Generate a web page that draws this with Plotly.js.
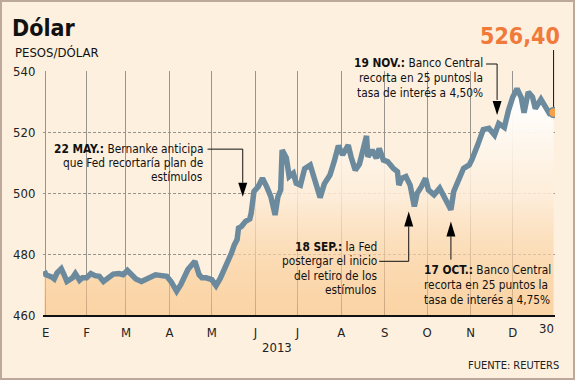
<!DOCTYPE html>
<html>
<head>
<meta charset="utf-8">
<script src="https://cdn.plot.ly/plotly-3.0.1.min.js"></script>
<style>
  html, body { margin: 0; padding: 0; background: #fdf0df; }
  #wrap { position: relative; width: 575px; height: 380px; }
  #chart { width: 575px; height: 380px; }
  #frame { position: absolute; left: 0; top: 0; width: 575px; height: 380px; box-sizing: border-box;
           border: 2px solid #bca99b; pointer-events: none; }
</style>
</head>
<body>
<div id="wrap"><div id="chart"></div><div id="frame"></div></div>
<script>
// ---- data ----
const dates = [
  '2013-01-02','2013-01-03','2013-01-07','2013-01-09','2013-01-11','2013-01-14','2013-01-16','2013-01-18',
  '2013-01-22','2013-01-24','2013-01-27','2013-01-29','2013-02-01','2013-02-04','2013-02-07','2013-02-10',
  '2013-02-13','2013-02-17','2013-02-20','2013-02-24','2013-02-27','2013-03-02','2013-03-05','2013-03-08',
  '2013-03-12','2013-03-15','2013-03-19','2013-03-22','2013-03-25','2013-03-30','2013-04-02','2013-04-06',
  '2013-04-09','2013-04-12','2013-04-14','2013-04-19','2013-04-22','2013-04-24','2013-04-27','2013-05-01',
  '2013-05-04','2013-05-07','2013-05-10','2013-05-12','2013-05-15','2013-05-17','2013-05-19','2013-05-20',
  '2013-05-22','2013-05-25','2013-05-28','2013-05-29','2013-05-31','2013-06-03','2013-06-06','2013-06-09',
  '2013-06-12','2013-06-15','2013-06-17','2013-06-19','2013-06-20','2013-06-23','2013-06-25','2013-06-28',
  '2013-06-30','2013-07-03','2013-07-06','2013-07-10','2013-07-13','2013-07-17','2013-07-20','2013-07-24',
  '2013-07-27','2013-07-30','2013-08-02','2013-08-06','2013-08-08','2013-08-11','2013-08-14','2013-08-18',
  '2013-08-19','2013-08-20','2013-08-23','2013-08-26','2013-08-28','2013-08-31','2013-09-03','2013-09-07',
  '2013-09-10','2013-09-11','2013-09-13','2013-09-16','2013-09-19','2013-09-22','2013-09-24','2013-09-27',
  '2013-09-30','2013-10-02','2013-10-06','2013-10-10','2013-10-13','2013-10-15','2013-10-18','2013-10-20',
  '2013-10-24','2013-10-27','2013-10-31','2013-11-02','2013-11-06','2013-11-10','2013-11-14','2013-11-18',
  '2013-11-21','2013-11-25','2013-11-28','2013-12-01','2013-12-04','2013-12-07','2013-12-09','2013-12-12',
  '2013-12-15','2013-12-17','2013-12-21','2013-12-24','2013-12-27','2013-12-30'
];
const pesosPerDollar = [
  474.4,473.2,472.5,471.8,473.8,475.2,473.2,471.0,
  472.2,473.6,471.4,472.2,472.2,473.6,472.9,472.7,
  471.0,472.2,473.4,473.6,473.2,474.6,473.2,471.8,
  471.0,471.8,472.7,473.2,473.0,472.7,471.0,467.8,
  470.0,472.5,474.9,477.6,473.2,472.2,472.2,471.6,
  469.6,472.0,474.9,477.5,480.3,483.0,484.7,488.5,
  489.0,490.7,491.5,493.4,500.5,502.1,504.8,502.1,
  498.8,492.8,498.8,501.0,514.1,511.5,505.4,506.5,
  503.2,502.6,508.0,509.2,504.3,498.5,503.0,505.9,
  510.3,515.5,512.5,515.7,511.9,507.5,509.5,516.8,
  518.7,511.9,514.1,511.4,514.6,510.8,510.3,508.1,
  507.0,502.6,504.8,505.4,502.6,495.6,499.9,502.1,
  504.8,501.0,499.4,501.6,498.8,497.7,494.5,500.5,
  504.8,508.1,509.2,511.0,515.7,520.8,521.2,519.0,
  522.8,521.5,527.2,531.5,534.2,531.3,526.3,533.1,
  531.5,527.7,530.7,528.0,526.1,526.4
];
const monthTickDates = ['2013-01-03','2013-02-01','2013-03-01','2013-04-01','2013-05-01','2013-06-01',
  '2013-07-01','2013-08-01','2013-09-01','2013-10-01','2013-11-01','2013-12-01'];
const monthTickLabels = ['E','F','M','A','M','J','J','A','S','O','N','D'];
const yTicks = [460, 480, 500, 520, 540];
const lastLabel = '526,40';

// ---- styling ----
const FONT = '"DejaVu Sans Condensed", "DejaVu Sans", sans-serif';
const BG = '#fdf0df';
const LINE = '#6b8a9d';
const PLOT_TOP = 71, PLOT_H = 244.5;
const py = (pix) => (PLOT_TOP + PLOT_H - pix) / PLOT_H;   // pixel row -> paper y

const lastDate = dates[dates.length - 1];
const lastVal = pesosPerDollar[pesosPerDollar.length - 1];

const traces = [
  {
    x: dates, y: pesosPerDollar, type: 'scatter', mode: 'lines',
    line: { color: LINE, width: 5.5 },
    fill: 'tozeroy',
    fillgradient: { type: 'vertical', start: 460, stop: 530,
      colorscale: [[0, 'rgba(249,186,112,0.52)'], [0.55, 'rgba(253,236,215,0.85)'], [1, 'rgba(255,255,255,1)']] },
    hoverinfo: 'x+y'
  },
  {
    x: [lastDate], y: [lastVal], type: 'scatter', mode: 'markers',
    marker: { color: '#f7a146', size: 10, line: { color: LINE, width: 1.5 } },
    hoverinfo: 'skip'
  }
];

function ann(text, x, y, xanchor, extra) {
  return Object.assign({ text: text, xref: 'paper', yref: 'paper', x: x, y: y, xanchor: xanchor,
    yanchor: 'middle', align: xanchor, showarrow: false,
    font: { family: FONT, size: 11.8, color: '#111' } }, extra || {});
}
// one annotation per text line so the line spacing matches the reference
function block(lines, x, rows, xanchor) {
  return lines.map((t, i) => ann(t, x, py(rows[i]), xanchor));
}
function hline(x0, x1, y) {
  return { type: 'line', xref: 'x', yref: 'paper', x0: x0, x1: x1, y0: y, y1: y, line: { color: '#111', width: 1 } };
}
function vline(x, y0, y1) {
  return { type: 'line', xref: 'x', yref: 'paper', x0: x, x1: x, y0: y0, y1: y1, line: { color: '#111', width: 1 } };
}
function tri(x, y, down) {
  return { type: 'path', xref: 'x', yref: 'paper', xsizemode: 'pixel', ysizemode: 'pixel',
    xanchor: x, yanchor: y, path: down ? 'M -4.5 14 L 4.5 14 L 0 0 Z' : 'M -4.5 -15 L 4.5 -15 L 0 0 Z',
    fillcolor: '#000', line: { width: 0 } };
}

const annotations = [].concat(
  [
    ann('PESOS/DÓLAR', -0.058, 1.077, 'left', { font: { family: FONT, size: 13, color: '#111' } }),
    ann('<b>' + lastLabel + '</b>', 0.9316, 1.144, 'center', { font: { family: FONT, size: 23, color: '#f07a3a' } }),
    ann('30', 0.984, -0.056, 'center', { font: { family: FONT, size: 13, color: '#222' } }),
    ann('2013', 0.457, -0.1315, 'center', { font: { family: FONT, size: 13, color: '#222' } }),
    ann('FUENTE: REUTERS', 1.0117, -0.209, 'right', { font: { family: FONT, size: 11, color: '#222' } })
  ],
  block(['<b>22 MAY.:</b> Bernanke anticipa', 'que Fed recortaría plan de', 'estímulos'],
        0.3164, [149.3, 163.3, 177.3], 'right'),
  block(['<b>18 SEP.:</b> la Fed', 'postergar el inicio', 'del retiro de los', 'estímulos'],
        0.6563, [247.3, 261.7, 276.2, 290.7], 'right'),
  block(['<b>17 OCT.:</b> Banco Central', 'recorta en 25 puntos la', 'tasa de interés a 4,75%'],
        0.7396, [270.7, 285.3, 300], 'left'),
  block(['<b>19 NOV.:</b> Banco Central', 'recorta en 25 puntos la', 'tasa de interés a 4,50%'],
        0.8633, [63.3, 78, 92.7], 'right')
);

const layout = {
  width: 575, height: 380,
  margin: { l: 43, r: 20, t: PLOT_TOP, b: 380 - PLOT_TOP - PLOT_H },
  paper_bgcolor: BG, plot_bgcolor: BG,
  showlegend: false,
  font: { family: FONT, size: 13, color: '#222' },
  title: { text: '<b>Dólar</b>', x: 12 / 575, xanchor: 'left', xref: 'container',
           y: 1 - 28 / 380, yanchor: 'middle', yref: 'container',
           font: { family: FONT, size: 23, color: '#111' } },
  xaxis: {
    type: 'date', range: ['2013-01-01', '2013-12-31'],
    tickvals: monthTickDates, ticktext: monthTickLabels,
    showgrid: true, gridcolor: '#9a948e', gridwidth: 1,
    ticks: 'outside', ticklen: 4, tickcolor: 'rgba(0,0,0,0)',
    showline: true, linecolor: '#111', linewidth: 2,
    zeroline: false, tickfont: { family: FONT, size: 13, color: '#222' }, fixedrange: true
  },
  yaxis: {
    range: [460, 540], tickvals: yTicks, ticktext: yTicks.map(String),
    showgrid: true, gridcolor: '#9a948e', gridwidth: 1, griddash: '3px,2px',
    ticks: 'outside', ticklen: 4, tickcolor: 'rgba(0,0,0,0)',
    showline: false, zeroline: false,
    tickfont: { family: FONT, size: 13, color: '#222' }, fixedrange: true
  },
  shapes: [
    hline('2013-04-28', '2013-05-23', py(149.3)), vline('2013-05-23', py(149.3), py(183)), tri('2013-05-23', py(197), true),
    hline('2013-08-28', '2013-09-18', py(261.7)), vline('2013-09-18', py(261.7), py(226.7)), tri('2013-09-18', py(211.7), false),
    vline('2013-10-18', py(260), py(236.7)), tri('2013-10-18', py(221.7), false),
    hline('2013-11-12', '2013-11-19 20:00', py(64)), vline('2013-11-19 20:00', py(64), py(100)), tri('2013-11-19 20:00', py(115), true),
    vline(lastDate, py(107), py(50))
  ],
  annotations: annotations
};

Plotly.newPlot('chart', traces, layout, { displayModeBar: false, staticPlot: true });
</script>
</body>
</html>
